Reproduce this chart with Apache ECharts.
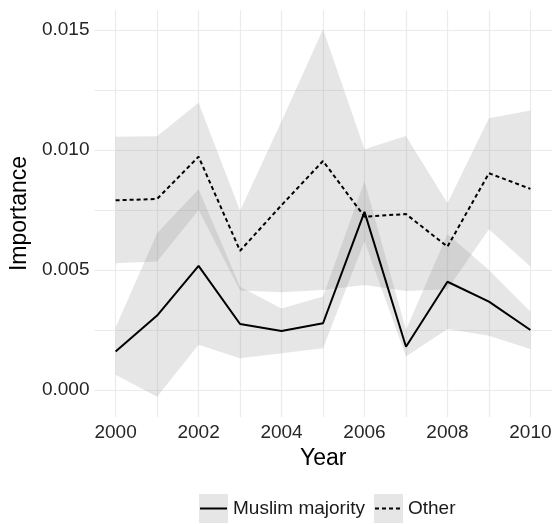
<!DOCTYPE html>
<html>
<head>
<meta charset="utf-8">
<script src="https://cdn.jsdelivr.net/npm/echarts@6/dist/echarts.min.js"></script>
<style>
  html, body { margin: 0; padding: 0; background: #fff; }
  #chart { width: 558px; height: 524px; }
</style>
</head>
<body>
<div id="chart"></div>
<script>
// Yearly importance estimates with confidence bands, by country group
const years = [2000, 2001, 2002, 2003, 2004, 2005, 2006, 2007, 2008, 2009, 2010];

const muslim   = [0.0016, 0.0031, 0.00517, 0.00275, 0.00246, 0.00278, 0.00742, 0.0018, 0.00451, 0.00368, 0.0025];
const muslimLo = [0.00063, -0.00028, 0.00188, 0.00132, 0.00153, 0.00174, 0.0062, 0.0014, 0.00254, 0.00226, 0.00171];
const muslimHi = [0.0026, 0.00653, 0.00836, 0.0043, 0.0034, 0.0039, 0.0087, 0.0025, 0.0065, 0.005, 0.00326];

const other   = [0.0079, 0.00796, 0.00972, 0.0058, 0.0077, 0.00954, 0.00722, 0.00733, 0.00597, 0.00903, 0.00838];
const otherLo = [0.00528, 0.00535, 0.0075, 0.00414, 0.00407, 0.00417, 0.00437, 0.00412, 0.0042, 0.0067, 0.00514];
const otherHi = [0.01055, 0.01057, 0.01197, 0.00747, 0.0112, 0.01503, 0.01003, 0.01058, 0.00778, 0.01132, 0.01164];

const xLabelTicks = [2000, 2002, 2004, 2006, 2008, 2010];
const yLabelTicks = [0, 0.005, 0.010, 0.015];
const yGridTicks  = [0, 0.0025, 0.005, 0.0075, 0.010, 0.0125, 0.015];

const seriesNames = ['Muslim majority', 'Other'];

const FONT = '"Liberation Sans", Arial, Helvetica, sans-serif';
const BAND = 'rgba(128,128,128,0.2)';
const GRID = '#ebebeb';

// Confidence band drawn as a polygon through the axis coordinate system
function band(lo, hi) {
  return {
    type: 'custom',
    data: [[years[0], lo[0]]],
    silent: true,
    clip: true,
    z: 1,
    renderItem: function (params, api) {
      const pts = [];
      for (let i = 0; i < years.length; i++) pts.push(api.coord([years[i], hi[i]]));
      for (let i = years.length - 1; i >= 0; i--) pts.push(api.coord([years[i], lo[i]]));
      return {
        type: 'polygon',
        shape: { points: pts },
        style: { fill: BAND, stroke: null }
      };
    }
  };
}

function line(name, values, dashed) {
  return {
    name: name,
    type: 'line',
    data: years.map((y, i) => [y, values[i]]),
    symbol: 'none',
    z: 3,
    lineStyle: { color: '#000', width: 2, type: dashed ? [4, 3] : 'solid' },
    emphasis: { disabled: true }
  };
}

const chart = echarts.init(document.getElementById('chart'), null, { renderer: 'canvas' });

// Legend keys: grey band swatch with the line style on top
function legendKey(x, dashed, label) {
  return [
    { type: 'rect', shape: { x: x, y: 494, width: 29, height: 29 }, style: { fill: BAND } },
    { type: 'line', shape: { x1: x + 1, y1: 508.5, x2: x + 28, y2: 508.5 },
      style: { stroke: '#000', lineWidth: 2, lineDash: dashed ? [4, 3] : null } },
    { type: 'text', x: x + 34, y: 508.5,
      style: { text: label, font: '19px ' + FONT, fill: '#1a1a1a', textVerticalAlign: 'middle' } }
  ];
}

chart.setOption({
  animation: false,
  backgroundColor: '#fff',
  grid: { left: 93, right: 6, top: 10, bottom: 107, containLabel: false },
  xAxis: {
    type: 'value',
    min: 1999.49,
    max: 2010.52,
    name: 'Year',
    nameLocation: 'middle',
    nameGap: 27,
    nameTextStyle: { fontFamily: FONT, fontSize: 23, color: '#000' },
    axisLine: { show: false },
    axisTick: { show: false, customValues: years },
    axisLabel: {
      customValues: xLabelTicks,
      margin: 6,
      fontFamily: FONT, fontSize: 19, color: '#262626',
      formatter: v => String(v)
    },
    splitLine: { show: true, lineStyle: { color: GRID, width: 1.2 } }
  },
  yAxis: {
    type: 'value',
    min: -0.001125,
    max: 0.01583,
    name: 'Importance',
    nameLocation: 'middle',
    nameGap: 54,
    nameRotate: 90,
    nameTextStyle: { fontFamily: FONT, fontSize: 23, color: '#000' },
    axisLine: { show: false },
    axisTick: { show: false, customValues: yGridTicks },
    axisLabel: {
      customValues: yLabelTicks,
      margin: 5,
      fontFamily: FONT, fontSize: 19, color: '#262626',
      formatter: v => v.toFixed(3)
    },
    splitLine: { show: true, lineStyle: { color: GRID, width: 1.2 } }
  },
  series: [
    band(muslimLo, muslimHi),
    band(otherLo, otherHi),
    line(seriesNames[0], muslim, false),
    line(seriesNames[1], other, true)
  ],
  graphic: [].concat(
    legendKey(199, false, seriesNames[0]),
    legendKey(374, true, seriesNames[1])
  )
});
</script>
</body>
</html>
